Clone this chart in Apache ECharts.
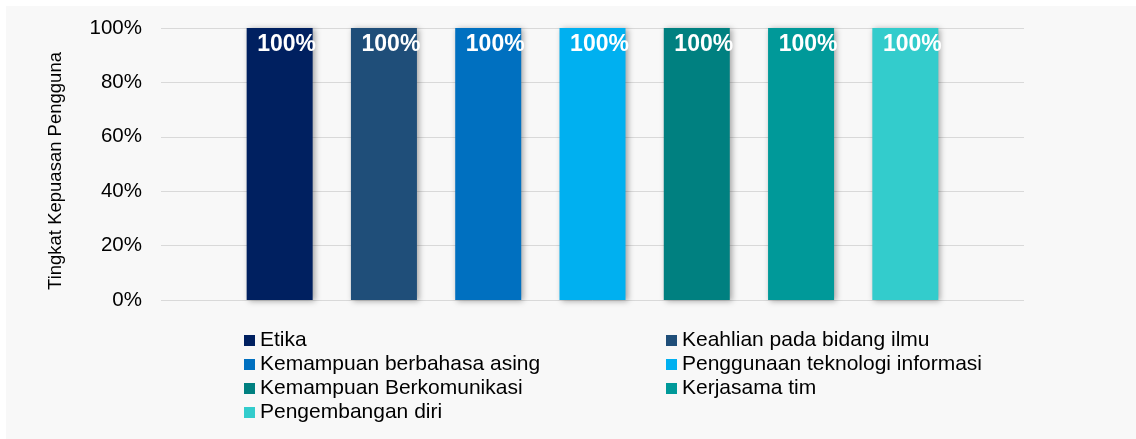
<!DOCTYPE html>
<html>
<head>
<meta charset="utf-8">
<script src="https://cdn.jsdelivr.net/npm/echarts@6/dist/echarts.min.js"></script>
<style>
html,body{margin:0;padding:0;background:#ffffff;}
#chart{width:1136px;height:439px;}
</style>
</head>
<body>
<div id="chart"></div>
<script>
const categories = ['Tingkat Kepuasan Pengguna'];
const seriesNames = ['Etika','Keahlian pada bidang ilmu','Kemampuan berbahasa asing','Penggunaan teknologi informasi','Kemampuan Berkomunikasi','Kerjasama tim','Pengembangan diri'];
const seriesValues = [[100],[100],[100],[100],[100],[100],[100]];
const seriesColors = ['#002060','#1f4e79','#0070c0','#00b0f0','#008080','#009999','#33cccc'];
const yTicks = [0,20,40,60,80,100];

const chart = echarts.init(document.getElementById('chart'));
const font = 'Liberation Sans, Arial, sans-serif';
const series = seriesNames.map((n,i)=>({
  name:n, type:'bar', data:seriesValues[i], barWidth:66, barGap:'58%',
  itemStyle:{color:seriesColors[i], shadowBlur:6, shadowColor:'rgba(0,0,0,0.35)', shadowOffsetX:2, shadowOffsetY:1},
  label:{show:true, position:'insideTop', distance:5, offset:[7,0], formatter:'{c}%', color:'#ffffff', fontWeight:'bold', fontSize:23, fontFamily:font},
  emphasis:{disabled:true}
}));
const legendCommon = {orient:'vertical', itemWidth:11, itemHeight:11, itemGap:3, icon:'rect', padding:0,
  textStyle:{fontSize:21, color:'#000000', fontFamily:font}, selectedMode:false};
chart.setOption({
  animation:false,
  backgroundColor:'#ffffff',
  graphic:[{type:'rect', z:-10, shape:{x:6,y:6,width:1130,height:433}, style:{fill:'#f8f8f8'}}],
  grid:{left:161, right:112, top:28, bottom:139},
  xAxis:{type:'category', data:categories, axisLine:{show:false}, axisTick:{show:false}, axisLabel:{show:false}},
  yAxis:{type:'value', min:yTicks[0], max:yTicks[yTicks.length-1], interval:20,
    name:'Tingkat Kepuasan Pengguna', nameLocation:'middle', nameGap:96,
    nameTextStyle:{fontSize:18.5, color:'#000000', fontFamily:font, padding:[0,14,0,0]},
    axisLabel:{formatter:'{value}%', fontSize:20.5, color:'#000000', margin:19, fontFamily:font},
    axisLine:{show:false}, axisTick:{show:false},
    splitLine:{lineStyle:{color:'#d9d9d9', width:1}}},
  legend:[
    Object.assign({left:244, top:330, data:[seriesNames[0],seriesNames[2],seriesNames[4],seriesNames[6]]}, legendCommon),
    Object.assign({left:666, top:330, data:[seriesNames[1],seriesNames[3],seriesNames[5]]}, legendCommon)
  ],
  series:series
});
</script>
</body>
</html>
